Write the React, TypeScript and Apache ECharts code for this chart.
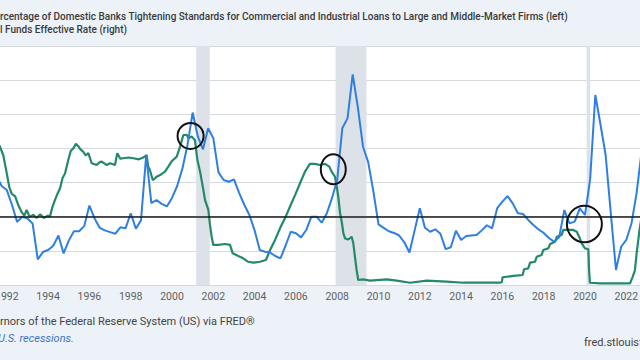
import React, { useEffect, useRef } from "react";
import * as echarts from "echarts";

const titleLeft =
  "Percentage of Domestic Banks Tightening Standards for Commercial and Industrial Loans to Large and Middle-Market Firms (left)";
const titleRight = "Federal Funds Effective Rate (right)";
const sourceText = "Source: Board of Governors of the Federal Reserve System (US) via FRED®";
const shadedText = "Shaded areas indicate U.S. recessions.";
const siteText = "fred.stlouisfed.org";

// Decimal-year dates (quarterly) and values of the left-axis series (%)
const tighteningDates = [
  1991.5, 1991.75, 1992.0, 1992.25, 1992.5, 1992.75, 1993.0, 1993.25, 1993.5, 1993.75,
  1994.0, 1994.25, 1994.5, 1994.75, 1995.0, 1995.25, 1995.5, 1995.75, 1996.0, 1996.25,
  1996.5, 1996.75, 1997.0, 1997.25, 1997.5, 1997.75, 1998.0, 1998.25, 1998.5, 1998.75,
  1999.0, 1999.25, 1999.5, 1999.75, 2000.0, 2000.25, 2000.5, 2000.75, 2001.0, 2001.25,
  2001.5, 2001.75, 2002.0, 2002.25, 2002.5, 2002.75, 2003.0, 2003.25, 2003.5, 2003.75,
  2004.0, 2004.25, 2004.5, 2004.75, 2005.0, 2005.25, 2005.5, 2005.75, 2006.0, 2006.25,
  2006.5, 2006.75, 2007.0, 2007.25, 2007.5, 2007.75, 2008.0, 2008.25, 2008.5, 2008.75,
  2009.0, 2009.25, 2009.5, 2009.75, 2010.0, 2010.25, 2010.5, 2010.75, 2011.0, 2011.25,
  2011.5, 2011.75, 2012.0, 2012.25, 2012.5, 2012.75, 2013.0, 2013.25, 2013.5, 2013.75,
  2014.0, 2014.25, 2014.5, 2014.75, 2015.0, 2015.25, 2015.5, 2015.75, 2016.0, 2016.25,
  2016.5, 2016.75, 2017.0, 2017.25, 2017.5, 2017.75, 2018.0, 2018.25, 2018.5, 2018.75,
  2019.0, 2019.25, 2019.5, 2019.75, 2020.0, 2020.25, 2020.5, 2020.75, 2021.0, 2021.25,
  2021.5, 2021.75, 2022.0, 2022.25, 2022.5, 2022.75,
];
const tighteningValues = [
  24, 18, 15.6, 7, -3, 0, -1, -4, -25, -20.7,
  -19.5, -17, -11, -21.5, -14, -8.5, -8.5, -5.5, 6.5, -1,
  -6.5, -8, -9, -10, -6.2, -6.8, 2, -7, -2, 36,
  8, 9.8, 7.5, 6, 11, 18, 28, 42, 61, 47,
  39.5, 51.8, 46, 26, 21.5, 20.5, 21.9, 14, 7, 1,
  -8, -19.5, -20.5, -21, -23, -24.4, -17, -8.8, -9.7, -12.1,
  -7.8, 0, 0, -3.5, 2, 11, 21.5, 52, 57.6, 83.4,
  64, 41, 32, 15, -4.5, -6.5, -8.5, -9.5, -11, -15,
  -21, -8, 4.9, -6.5, -8.8, -7.4, -10, -19, -17.9, -8.2,
  -13.6, -11.3, -11, -10.7, -8, -5, -6.8, 5, 8.8, 12.1,
  7.8, 2, 1.6, -1.9, -4.9, -7.5, -9.5, -12.5, -14.6, -12,
  3.9, -3.9, -2.9, 4.9, 1, 22, 71.3, 54, 36, 2,
  -31.2, -17.6, -13.6, -4, 14, 39,
];

// Decimal-year dates and values of the right-axis series (%)
const fedFundsDates = [
  1991.5, 1991.67, 1991.83, 1992.0, 1992.12, 1992.24, 1992.4, 1992.56, 1992.72, 1992.85,
  1992.96, 1993.1, 1993.28, 1993.45, 1993.61, 1993.8, 1994.0, 1994.09, 1994.2, 1994.33,
  1994.45, 1994.58, 1994.7, 1994.82, 1994.98, 1995.1, 1995.22, 1995.35, 1995.46, 1995.58,
  1995.7, 1995.82, 1995.95, 1996.11, 1996.35, 1996.5, 1996.6, 1996.84, 1997.0, 1997.24,
  1997.35, 1997.5, 1997.64, 1997.9, 1998.13, 1998.4, 1998.6, 1998.77, 1998.85, 1998.93,
  1999.07, 1999.26, 1999.42, 1999.66, 1999.82, 2000.0, 2000.23, 2000.39, 2000.55, 2000.71,
  2000.8, 2000.95, 2001.11, 2001.23, 2001.36, 2001.49, 2001.6, 2001.76, 2001.84, 2001.92,
  2002.0, 2002.24, 2002.57, 2002.81, 2002.94, 2003.21, 2003.45, 2003.69, 2003.94, 2004.26,
  2004.55, 2004.75, 2004.99, 2005.23, 2005.47, 2005.71, 2005.96, 2006.2, 2006.44, 2006.68,
  2006.92, 2007.17, 2007.41, 2007.62, 2007.73, 2007.89, 2007.98, 2008.05, 2008.14, 2008.22,
  2008.3, 2008.38, 2008.54, 2008.7, 2008.78, 2008.86, 2008.94, 2009.02, 2009.26, 2009.59,
  2010.4, 2010.88, 2011.53, 2012.33, 2013.3, 2014.11, 2014.92, 2015.88, 2015.97, 2016.01,
  2016.53, 2016.98, 2017.05, 2017.25, 2017.34, 2017.58, 2017.66, 2017.9, 2017.98, 2018.22,
  2018.31, 2018.55, 2018.63, 2018.87, 2018.95, 2019.43, 2019.6, 2019.72, 2019.84, 2020.0,
  2020.16, 2020.2, 2020.24, 2020.73, 2022.18, 2022.31, 2022.42, 2022.5, 2022.63, 2022.75,
  2022.9,
];
const fedFundsValues = [
  6.3, 6.08, 5.7, 4.9, 4.3, 4.0, 3.9, 3.5, 3.2, 3.05,
  3.3, 3.0, 3.08, 2.95, 3.1, 2.95, 3.05, 3.0, 3.4, 3.73,
  4.0, 4.25, 4.7, 4.9, 5.5, 5.9, 6.0, 6.2, 6.1, 5.95,
  5.86, 5.7, 5.79, 5.35, 5.27, 5.4, 5.42, 5.27, 5.35, 5.27,
  5.79, 5.55, 5.57, 5.6, 5.57, 5.52, 5.6, 5.71, 5.2, 5.05,
  4.6, 4.76, 4.83, 4.98, 5.2, 5.45, 5.64, 6.08, 6.59, 6.6,
  6.45, 6.52, 6.37, 5.49, 4.98, 4.32, 3.73, 3.3, 2.64, 2.12,
  1.76, 1.76, 1.8, 1.76, 1.39, 1.27, 1.17, 1.02, 0.98, 1.02,
  1.1, 1.54, 1.98, 2.49, 2.93, 3.44, 3.95, 4.47, 4.98, 5.32,
  5.32, 5.27, 5.32, 5.2, 4.98, 4.76, 4.32, 3.88, 3.15, 2.78,
  2.27, 2.05, 2.0, 2.12, 1.83, 1.24, 0.66, 0.22, 0.25, 0.19,
  0.25, 0.19, 0.1, 0.19, 0.15, 0.1, 0.1, 0.1, 0.12, 0.34,
  0.4, 0.44, 0.69, 0.73, 0.98, 1.02, 1.24, 1.32, 1.54, 1.61,
  1.8, 1.9, 2.12, 2.2, 2.42, 2.42, 2.34, 2.12, 1.83, 1.61,
  1.57, 0.6, 0.1, 0.07, 0.07, 0.36, 0.66, 1.39, 2.34, 3.08,
  3.8,
];

// Recession periods (decimal years)
const recessionStarts = [2001.17, 2007.92, 2020.08];
const recessionEnds = [2001.83, 2009.42, 2020.25];

// Hand-drawn circle annotations: [year, left-axis value]
const circleYears = [2000.9, 2007.81, 2019.97];
const circleValues = [47.3, 27.8, -4.3];
const circleRadiiX = [13, 12.5, 17.5];
const circleRadiiY = [13, 15, 18.3];

const measure = (text: string, font: string) => {
  const c = document.createElement("canvas").getContext("2d")!;
  c.font = font;
  return c.measureText(text).width;
};

export default function App() {
  const ref = useRef<HTMLDivElement>(null);
  useEffect(() => {
    if (!ref.current) return;
    const chart = echarts.init(ref.current, undefined, { renderer: "svg" });
    const blueData = tighteningDates.map((d, i) => [d, tighteningValues[i]]);
    const greenData = fedFundsDates.map((d, i) => [d, fedFundsValues[i]]);

    const titleFont = "500 10px Roboto";
    const footFont = "11px Roboto";
    const t1x = -measure("Pe", titleFont);
    const t2x = -measure("Federa", titleFont);
    const s1x = -measure("Source: Board of Gove", footFont);
    const s2x = -measure("Shaded areas indicate ", "italic " + footFont) - 2;

    chart.setOption({
      animation: false,
      backgroundColor: "#edf2f9",
      grid: {
        left: -34.5,
        width: 702.1,
        top: 46,
        height: 239,
        show: true,
        backgroundColor: "#ffffff",
        borderWidth: 0,
        containLabel: false,
        outerBoundsMode: "none",
      },
      xAxis: {
        type: "value",
        min: 1990,
        max: 2024,
        interval: 2,
        axisLine: { show: true, lineStyle: { color: "#cfd4da" } },
        axisTick: { show: false },
        splitLine: { show: false },
        axisLabel: {
          color: "#5f5f5f",
          fontSize: 10.5,
          fontFamily: "Roboto",
          margin: 6,
          formatter: (v: number) => String(v),
        },
      },
      yAxis: [
        {
          type: "value",
          min: -40,
          max: 100,
          interval: 20,
          axisLabel: { show: false },
          axisLine: { show: false },
          axisTick: { show: false },
          splitLine: { lineStyle: { color: "#d6d9de", width: 1 } },
        },
        {
          type: "value",
          min: 0,
          max: 10.5,
          interval: 1.5,
          axisLabel: { show: false },
          axisLine: { show: false },
          axisTick: { show: false },
          splitLine: { show: false },
        },
      ],
      series: [
        {
          name: titleLeft,
          type: "line",
          yAxisIndex: 0,
          data: blueData,
          showSymbol: false,
          lineStyle: { color: "#2f7fe3", width: 2 },
          itemStyle: { color: "#2f7fe3" },
          z: 3,
          markArea: {
            silent: true,
            itemStyle: { color: "#dde2e9" },
            data: recessionStarts.map((s, i) => [{ xAxis: s }, { xAxis: recessionEnds[i] }]),
          },
          markLine: {
            silent: true,
            symbol: "none",
            label: { show: false },
            lineStyle: { color: "#1a1a1a", width: 1.5, type: "solid" },
            data: [{ yAxis: 0 }],
          },
        },
        {
          name: titleRight,
          type: "line",
          yAxisIndex: 1,
          data: greenData,
          showSymbol: false,
          lineStyle: { color: "#23896b", width: 2.2 },
          itemStyle: { color: "#23896b" },
          z: 2,
        },
      ],
    });

    const circles = circleYears.map((yr, i) => {
      const p = chart.convertToPixel({ xAxisIndex: 0, yAxisIndex: 0 }, [yr, circleValues[i]]) as number[];
      return {
        type: "ellipse",
        shape: { cx: p[0], cy: p[1], rx: circleRadiiX[i], ry: circleRadiiY[i] },
        style: { fill: "none", stroke: "#111", lineWidth: 2 },
        z: 100,
        silent: true,
      };
    });

    chart.setOption({
      graphic: [
        {
          type: "text",
          x: t1x,
          y: 16,
          style: { text: titleLeft, font: titleFont, fill: "#3a3a3a", verticalAlign: "middle" },
        },
        {
          type: "text",
          x: t2x,
          y: 29,
          style: { text: titleRight, font: titleFont, fill: "#3a3a3a", verticalAlign: "middle" },
        },
        {
          type: "text",
          x: s1x,
          y: 321,
          style: { text: sourceText, font: footFont, fill: "#444", verticalAlign: "middle" },
        },
        {
          type: "text",
          x: s2x,
          y: 338,
          style: { text: shadedText, font: "italic " + footFont, fill: "#3c74c8", verticalAlign: "middle" },
        },
        {
          type: "text",
          x: 584,
          y: 342,
          style: { text: siteText, font: footFont, fill: "#444", verticalAlign: "middle" },
        },
        ...circles,
      ],
    });

    return () => chart.dispose();
  }, []);
  return (
    <div
      ref={ref}
      style={{ position: "fixed", left: 0, top: 0, width: 640, height: 360 }}
    />
  );
}
